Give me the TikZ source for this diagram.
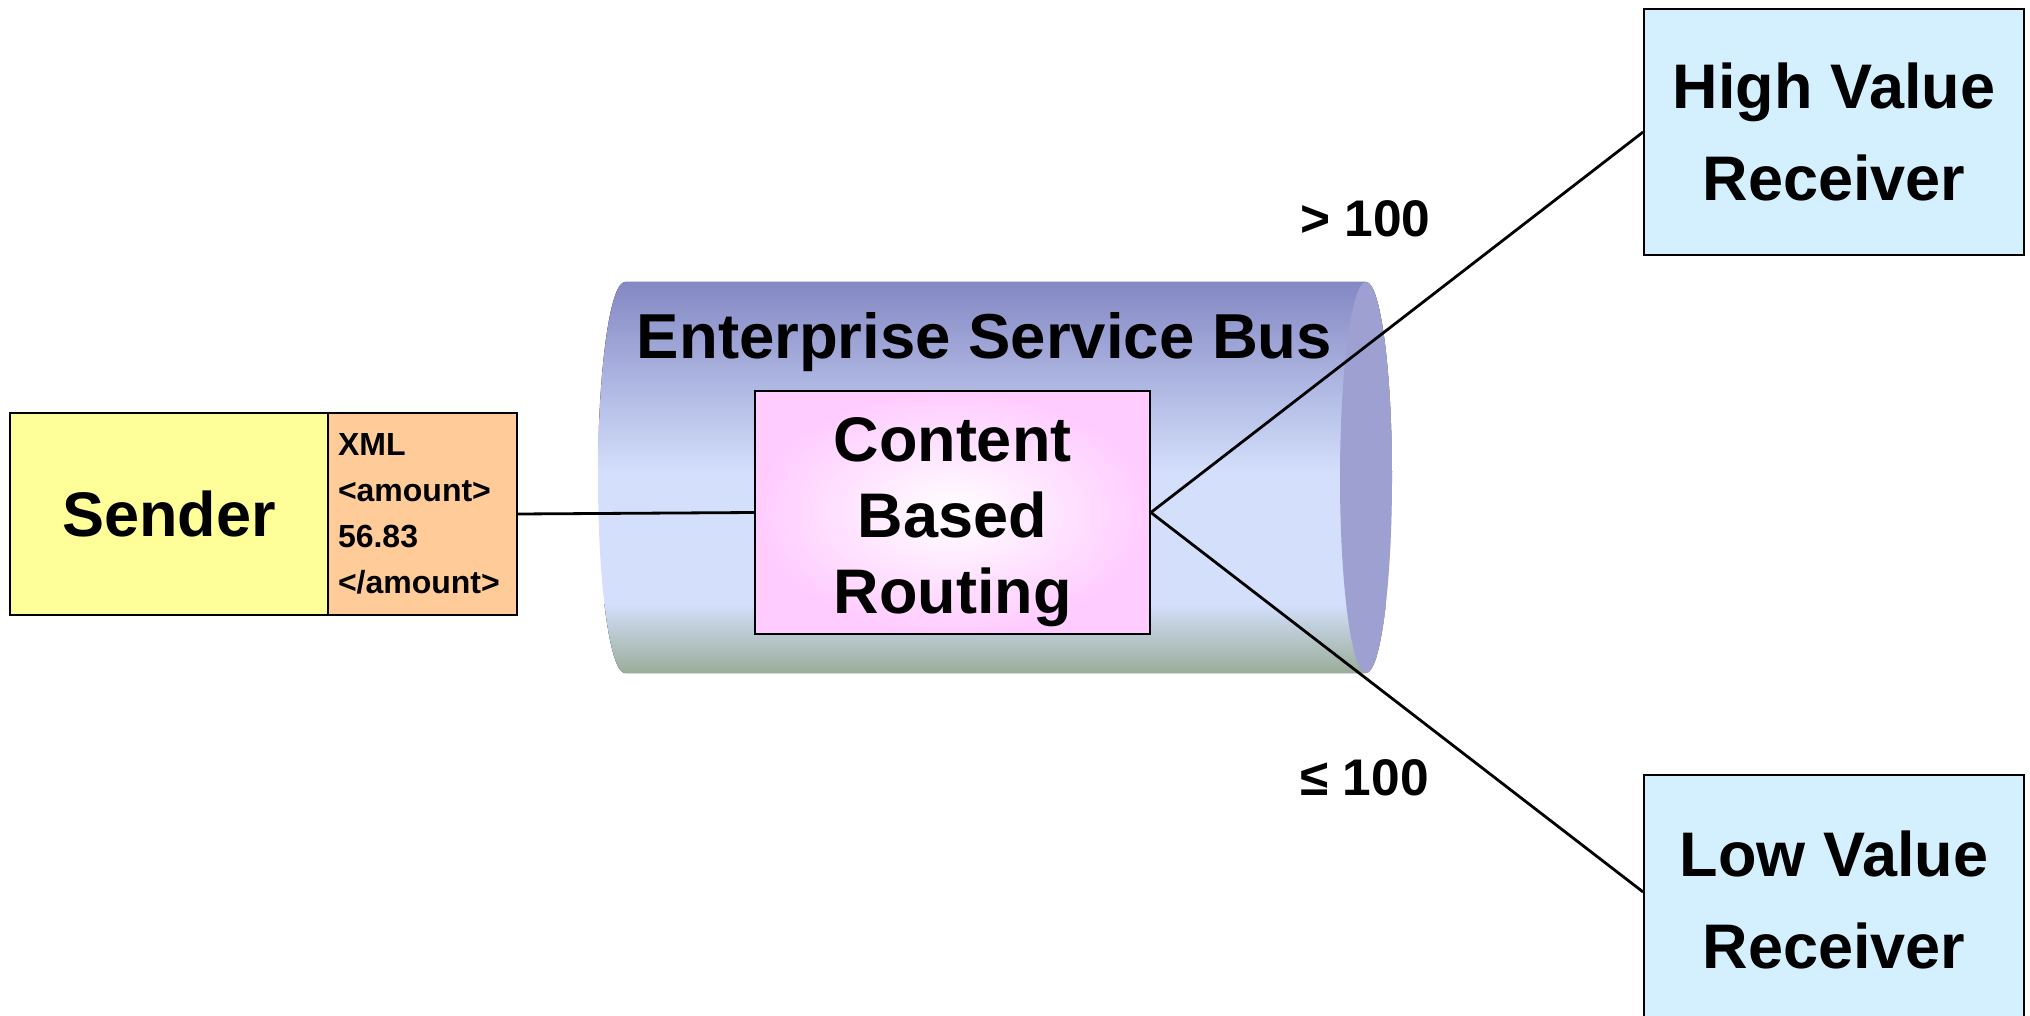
\documentclass[tikz,border=0pt]{standalone}
\usepackage{fontspec}
\setmainfont{Liberation Sans}
\definecolor{senderc}{HTML}{FFFF99}
\definecolor{xmlc}{HTML}{FFCC99}
\definecolor{pinkc}{HTML}{FFCCFF}
\definecolor{recvc}{HTML}{D4F0FF}
\definecolor{esbtop}{HTML}{8387C3}
\definecolor{esblight}{HTML}{D3DFFB}
\definecolor{esbgreen}{HTML}{97AB95}
\definecolor{esbend}{HTML}{9EA0D2}
\begin{document}
\begin{tikzpicture}[x=1pt,y=-1pt,
  box/.style={draw=black, line width=1.8pt, inner sep=0pt, align=center,
    font=\bfseries\fontsize{63}{76}\selectfont},
  bigtext/.style={inner sep=0pt, align=center, font=\bfseries\fontsize{63}{76}\selectfont},
  conn/.style={line width=2.8pt, black},
  lbl/.style={font=\bfseries\fontsize{51.5}{60}\selectfont, inner sep=0pt, anchor=base west}]
\useasboundingbox (0,0) rectangle (2030,1016);
% cylinder body
\begin{scope}
\clip (625,282) -- (1366,282)
  arc[start angle=270,end angle=450,x radius=26,y radius=195.5]
  -- (625,673)
  arc[start angle=90,end angle=270,x radius=27,y radius=195.5] -- cycle;
\fill[top color=esbtop, bottom color=esblight] (590,280) rectangle (1400,472);
\fill[esblight] (590,470) rectangle (1400,606);
\fill[top color=esblight, bottom color=esbgreen] (590,604) rectangle (1400,676);
\end{scope}
\fill[esbend] (1366,477.5) ellipse[x radius=26, y radius=195.5];
\node[font=\bfseries\fontsize{63.5}{76}\selectfont, inner sep=0pt, anchor=base] (esb) at (984.5,359) {Enterprise Service Bus};
% nodes
\node[box, fill=senderc, minimum width=318pt, minimum height=202pt] (sender) at (169,514) {Sender};
\node[box, fill=xmlc, minimum height=202pt, text width=169pt, inner xsep=10pt, align=left,
  font=\bfseries\fontsize{32}{46}\selectfont] (xml) at (422.5,514) {XML\\<amount>\\56.83\\</amount>};
\node[box, inner color=white, outer color=pinkc, minimum width=395pt, minimum height=243pt] (cbr) at (952.5,512.5) {};
\node[bigtext] (cbrtext) at ([yshift=-9.5pt]cbr.center) {Content\\Based\\Routing};
\node[box, fill=recvc, minimum width=380pt, minimum height=246pt,
  font=\bfseries\fontsize{63}{92}\selectfont] (high) at (1834,132) {High Value\\Receiver};
\node[box, fill=recvc, minimum width=380pt, minimum height=250pt,
  font=\bfseries\fontsize{63}{92}\selectfont] (low) at (1834,900) {Low Value\\Receiver};
% labels
\node[lbl] (gt) at (1300,237) {> 100};
\node[lbl] (le) at (1300,795) {≤ 100};
% connectors
\draw[conn] (xml.east) -- (cbr.west);
\draw[conn] (cbr.east) -- (high.west);
\draw[conn] (cbr.east) -- ([yshift=8pt]low.west);
\end{tikzpicture}
\end{document}
